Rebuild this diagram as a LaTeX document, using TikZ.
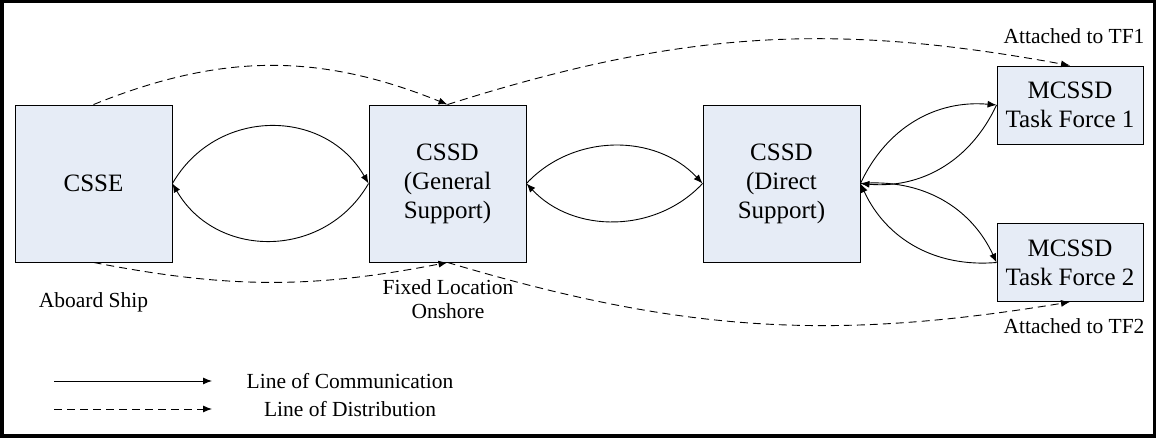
\documentclass[tikz,border=0pt]{standalone}
\usepackage{fontspec}
\setmainfont{Liberation Serif}
\usetikzlibrary{arrows.meta}
\definecolor{boxfill}{RGB}{230,236,246}

\begin{document}
\begin{tikzpicture}[x=1pt,y=1pt,
  unitbox/.style={draw, line width=0.9pt, fill=boxfill, inner sep=0pt, align=center, font=\fontsize{25}{29}\selectfont},
  lbl/.style={align=center, font=\fontsize{21.5}{24}\selectfont},
  comm/.style={line width=0.9pt, -{Latex[length=9pt,width=7pt]}},
  dist/.style={comm, dash pattern=on 8pt off 5pt}]
\useasboundingbox (0,0) rectangle (1156,438);
\draw [line width=3.5pt] (1.75,1.75) rectangle (1154.25,436.25);

% support units
\node [unitbox, minimum width=157, minimum height=157] (csse) at (93.5,254.5) {CSSE};
\node [unitbox, minimum width=157, minimum height=157] (gs) at (447.5,254.5) {CSSD\\(General\\Support)};
\node [unitbox, minimum width=157, minimum height=157] (ds) at (781.5,254.5) {CSSD\\(Direct\\Support)};
\node [unitbox, minimum width=146, minimum height=78] (tf1) at (1070,333) {MCSSD\\Task Force 1};
\node [unitbox, minimum width=146, minimum height=78] (tf2) at (1070,175.5) {MCSSD\\Task Force 2};

% where they sit
\node [lbl] (ship) at (93.5,136) {Aboard Ship};
\node [lbl] (shore) at (448,139) {Fixed Location\\Onshore};
\node [lbl] (att1) at (1074,402) {Attached to TF1};
\node [lbl] (att2) at (1074,112) {Attached to TF2};

% communication
\draw [comm] (csse.east) to [bend left=60, looseness=1.15] (gs.west);
\draw [comm] (gs.west) to [bend left=60, looseness=1.15] (csse.east);
\draw [comm] (gs.east) to [bend left=47] (ds.west);
\draw [comm] (ds.west) to [bend left=47] (gs.east);
\draw [comm] (ds.east) to [bend left=35] (tf1.west);
\draw [comm] (tf1.west) to [bend left=35] (ds.east);
\draw [comm] (ds.east) to [bend left=35] (tf2.west);
\draw [comm] (tf2.west) to [bend left=35] (ds.east);

% distribution
\draw [dist] (csse.north) to [bend left=22] (gs.north);
\draw [dist] (gs.north) to [bend left=14] (tf1.north);
\draw [dist] (csse.south) to [bend right=11] (gs.south);
\draw [dist] (gs.south) to [bend right=13] (tf2.south);

% legend
\coordinate (c1) at (54,57);
\coordinate (c2) at (212,57);
\coordinate (d1) at (54,29);
\coordinate (d2) at (212,29);
\draw [comm] (c1) -- (c2);
\draw [dist] (d1) -- (d2);
\node [lbl] (lc) at (350,57) {Line of Communication};
\node [lbl] (ld) at (350,29) {Line of Distribution};
\end{tikzpicture}
\end{document}
